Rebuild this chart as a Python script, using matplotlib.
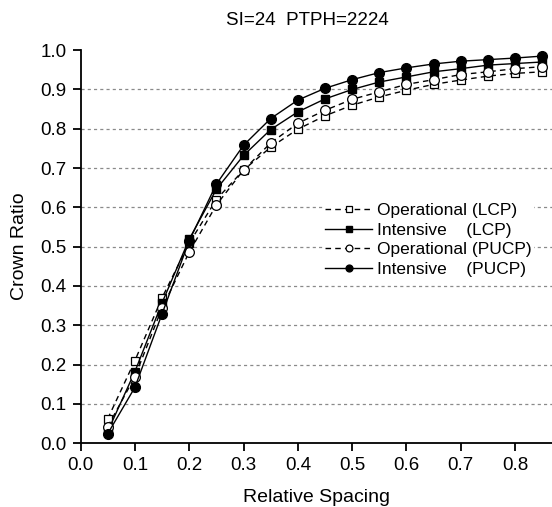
import matplotlib
matplotlib.use('Agg')
import matplotlib.pyplot as plt

plt.rcParams['font.family'] = ['Liberation Sans', 'DejaVu Sans']

# relative spacing
rs = [0.05, 0.10, 0.15, 0.20, 0.25, 0.30, 0.35, 0.40, 0.45, 0.50,
      0.55, 0.60, 0.65, 0.70, 0.75, 0.80, 0.85]

# crown ratio
op_lcp = [0.062, 0.210, 0.370, 0.509, 0.620, 0.695, 0.753, 0.799, 0.833, 0.860,
          0.881, 0.898, 0.913, 0.924, 0.934, 0.941, 0.945]
int_lcp = [0.030, 0.182, 0.357, 0.519, 0.646, 0.732, 0.798, 0.843, 0.876, 0.900,
           0.919, 0.932, 0.945, 0.953, 0.962, 0.966, 0.970]
op_pucp = [0.042, 0.169, 0.344, 0.486, 0.606, 0.695, 0.764, 0.814, 0.847, 0.875,
           0.894, 0.913, 0.925, 0.938, 0.945, 0.953, 0.958]
int_pucp = [0.024, 0.142, 0.329, 0.515, 0.659, 0.758, 0.826, 0.873, 0.903, 0.925,
            0.943, 0.955, 0.965, 0.972, 0.976, 0.980, 0.985]

labels = ['Operational (LCP)', 'Intensive    (LCP)',
          'Operational (PUCP)', 'Intensive    (PUCP)']

fig = plt.figure(figsize=(5.52, 5.07), dpi=100)
ax = fig.add_axes([0.146, 0.126, 0.854, 0.775])

dash = (0, (4, 3))
ms = 6
ax.plot(rs, op_lcp, color='black', lw=1, linestyle=dash, marker='s', ms=ms,
        mfc='white', mec='black', mew=0.9, label=labels[0])
ax.plot(rs, int_lcp, color='black', lw=1, linestyle='-', marker='s', ms=ms,
        mfc='black', mec='black', label=labels[1])
ax.plot(rs, op_pucp, color='black', lw=1, linestyle=dash, marker='o', ms=ms + 1,
        mfc='white', mec='black', mew=0.9, label=labels[2])
ax.plot(rs, int_pucp, color='black', lw=1, linestyle='-', marker='o', ms=ms + 1,
        mfc='black', mec='black', label=labels[3])

# dashed horizontal grid lines
for yv in [0.1, 0.2, 0.3, 0.4, 0.5, 0.6, 0.7, 0.8, 0.9]:
    ax.axhline(yv, color='#8a8a8a', lw=0.9, linestyle=(0, (2.5, 2.5)), zorder=0)

ax.set_xlim(0, 0.868)
ax.set_ylim(0, 1.0)
ax.set_xticks([0.0, 0.1, 0.2, 0.3, 0.4, 0.5, 0.6, 0.7, 0.8])
ax.set_yticks([0.0, 0.1, 0.2, 0.3, 0.4, 0.5, 0.6, 0.7, 0.8, 0.9, 1.0])
ax.xaxis.set_major_formatter(matplotlib.ticker.FormatStrFormatter('%.1f'))
ax.yaxis.set_major_formatter(matplotlib.ticker.FormatStrFormatter('%.1f'))
ax.spines['top'].set_visible(False)
ax.spines['right'].set_visible(False)
ax.spines['left'].set_linewidth(1.3)
ax.spines['bottom'].set_linewidth(1.3)
ax.tick_params(direction='out', length=6, width=1.3, labelsize=13.5, pad=4)
for sp in ['left', 'bottom']:
    ax.spines[sp].set_clip_on(False)

ax.set_xlabel('Relative Spacing', fontsize=14, labelpad=11)
ax.set_ylabel('Crown Ratio', fontsize=14, labelpad=9)

fig.text(0.556, 0.96, 'SI=24  PTPH=2224', fontsize=13.5, ha='center', va='center')

leg = ax.legend(loc='upper left', bbox_to_anchor=(0.515, 0.615), frameon=True,
                fontsize=12.5, handlelength=2.7, handletextpad=0.3,
                labelspacing=0.25, borderpad=0.1, borderaxespad=0,
                markerscale=0.7)
leg.get_frame().set_edgecolor('none')
leg.get_frame().set_facecolor('white')
leg.get_frame().set_alpha(1)

plt.savefig('out.png', dpi=100)
